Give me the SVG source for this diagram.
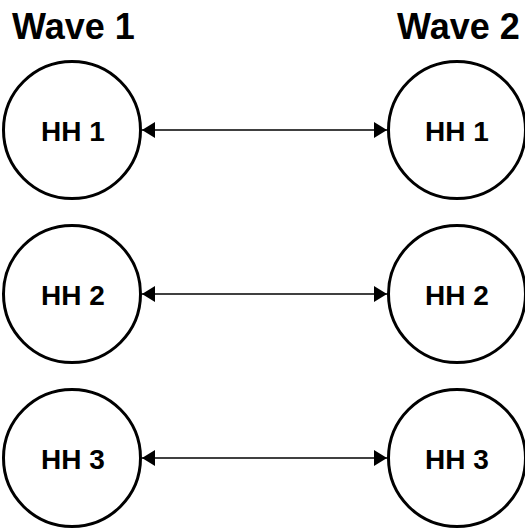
<svg xmlns="http://www.w3.org/2000/svg" width="525" height="531" viewBox="0 0 525 531">
<style>
.node circle{fill:#fff;stroke:#000;stroke-width:3}
.node text{font-family:"Liberation Sans",Arial,sans-serif;font-weight:bold;font-size:28px;text-anchor:middle;fill:#000}
.title{font-family:"Liberation Sans",Arial,sans-serif;font-weight:bold;font-size:36px;fill:#000}
.edge{stroke:#000;stroke-width:1.5;fill:none;marker-start:url(#arrS);marker-end:url(#arrE)}
</style>
<defs>
<marker id="arrE" markerUnits="userSpaceOnUse" markerWidth="14" markerHeight="16" refX="13" refY="8" orient="auto"><path d="M0,0 L13,8 L0,16 Z" fill="#000"/></marker>
<marker id="arrS" markerUnits="userSpaceOnUse" markerWidth="14" markerHeight="16" refX="0" refY="8" orient="auto"><path d="M13,0 L0,8 L13,16 Z" fill="#000"/></marker>
</defs>
<text class="title" x="12" y="39">Wave 1</text>
<text class="title" x="397" y="39">Wave 2</text>
<g id="connectors">
<line class="edge" x1="142" y1="130" x2="387" y2="130"/>
<line class="edge" x1="142" y1="294" x2="387" y2="294"/>
<line class="edge" x1="142" y1="458" x2="387" y2="458"/>
</g>
<g id="w1hh1" class="node"><circle cx="72" cy="130" r="68.5"/><text x="73" y="141">HH 1</text></g>
<g id="w1hh2" class="node"><circle cx="72" cy="294" r="68.5"/><text x="73" y="305">HH 2</text></g>
<g id="w1hh3" class="node"><circle cx="72" cy="458" r="68.5"/><text x="73" y="469">HH 3</text></g>
<g id="w2hh1" class="node"><circle cx="457" cy="130" r="68.5"/><text x="457" y="141">HH 1</text></g>
<g id="w2hh2" class="node"><circle cx="457" cy="294" r="68.5"/><text x="457" y="305">HH 2</text></g>
<g id="w2hh3" class="node"><circle cx="457" cy="458" r="68.5"/><text x="457" y="469">HH 3</text></g>
</svg>
